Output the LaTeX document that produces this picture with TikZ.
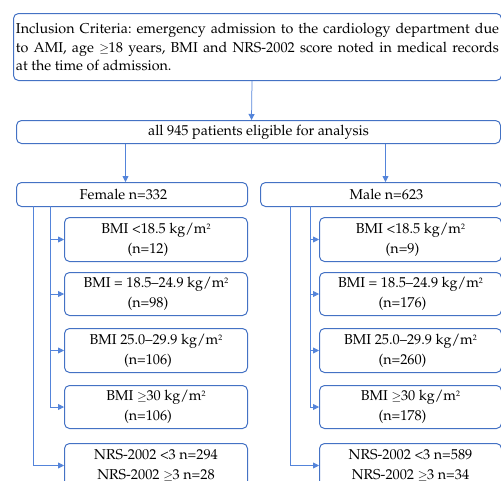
\documentclass[tikz,border=0pt]{standalone}
\usepackage[T1]{fontenc}
\usepackage{mathpazo}
\usetikzlibrary{arrows.meta}
\definecolor{bl}{RGB}{68, 114, 196}
\definecolor{ln}{RGB}{84, 132, 218}
\newcommand{\msq}{m\raisebox{0.55ex}{\fontsize{8}{8}\selectfont 2}}
\newcommand{\gteq}{{\fontsize{12}{12}\selectfont$\geq$}\kern-0.5pt}
\tikzset{
  box/.style={draw=bl, rounded corners=5pt, line width=1pt, inner sep=2.5pt,
    anchor=north west, align=center, font=\fontsize{14.3}{20}\selectfont},
  arr/.style={draw=ln, line width=0.75pt, -{Triangle[length=6pt, width=6pt]}}
}

\begin{document}
\frenchspacing
\begin{tikzpicture}[x=1pt, y=-1pt]
\useasboundingbox (0,0) rectangle (501,480);
% top rows
\node (incl) [box, text width=483pt, align=justify, minimum height=67pt, font=\fontsize{14.3}{18.5}\selectfont] at (13, 13) {Inclusion Criteria: emergency admission to the cardiology department due\linebreak to AMI, age \gteq18 years, BMI and NRS-2002 score noted in medical records\linebreak at the time of admission.\par\vspace*{5pt}};
\node (all) [box, minimum width=484pt, minimum height=23pt] at (16, 120) {all 945 patients eligible for analysis};
\node (fem) [box, minimum width=231pt, minimum height=24pt] at (16, 182) {Female n=332\kern17pt};
\node (male) [box, minimum width=241pt, minimum height=24pt] at (260, 182) {\kern11pt Male n=623};
% female column
\node (f1) [box, minimum width=183pt, minimum height=44pt] at (64, 217) {BMI <18.5 kg/\msq\\(n=12)\kern16pt};
\node (f2) [box, minimum width=183pt, minimum height=43pt] at (64, 272) {BMI = 18.5--24.9 kg/\msq\\(n=98)\kern16pt};
\node (f3) [box, minimum width=183pt, minimum height=44pt] at (64, 328) {BMI 25.0--29.9 kg/\msq\\(n=106)\kern16pt};
\node (f4) [box, minimum width=183pt, minimum height=43pt] at (64, 385) {BMI \gteq30 kg/\msq\\(n=106)\kern16pt};
\node (f5) [box, minimum width=183pt, minimum height=44pt] at (64, 443) {NRS-2002 <3 n=294\\NRS-2002 \gteq3 n=28};
% male column
\node (m1) [box, minimum width=182pt, minimum height=44pt] at (319, 217) {BMI <18.5 kg/\msq\\(n=9)\kern16pt};
\node (m2) [box, minimum width=182pt, minimum height=43pt] at (319, 272) {BMI = 18.5--24.9 kg/\msq\\(n=176)\kern16pt};
\node (m3) [box, minimum width=182pt, minimum height=44pt] at (319, 328) {BMI 25.0--29.9 kg/\msq\\(n=260)\kern16pt};
\node (m4) [box, minimum width=182pt, minimum height=43pt] at (319, 385) {BMI \gteq30 kg/\msq\\(n=178)\kern16pt};
\node (m5) [box, minimum width=182pt, minimum height=44pt] at (319, 443) {NRS-2002 <3 n=589\\NRS-2002 \gteq3 n=34};
% trunk tops
\coordinate (fo) at (33, 206);
\coordinate (fi) at (50, 206);
\coordinate (mo) at (290, 206);
\coordinate (mi) at (310, 206);
% connectors
\draw [arr] ([xshift=-5.5pt]incl.south) -- ([xshift=-7pt]all.north);
\draw [arr] ([xshift=-6.5pt]fem.north |- all.south) -- ([xshift=-6.5pt]fem.north);
\draw [arr] ([xshift=4.5pt]male.north |- all.south) -- ([xshift=4.5pt]male.north);
\draw [arr] (fi) |- (f1.west);
\draw [arr] (fi) |- (f2.west);
\draw [arr] (fi) |- (f3.west);
\draw [arr] (fi) |- (f4.west);
\draw [arr] (fo) |- (f5.west);
\draw [arr] (mi) |- (m1.west);
\draw [arr] (mi) |- (m2.west);
\draw [arr] (mi) |- (m3.west);
\draw [arr] (mi) |- (m4.west);
\draw [arr] (mo) |- (m5.west);
\end{tikzpicture}
\end{document}
